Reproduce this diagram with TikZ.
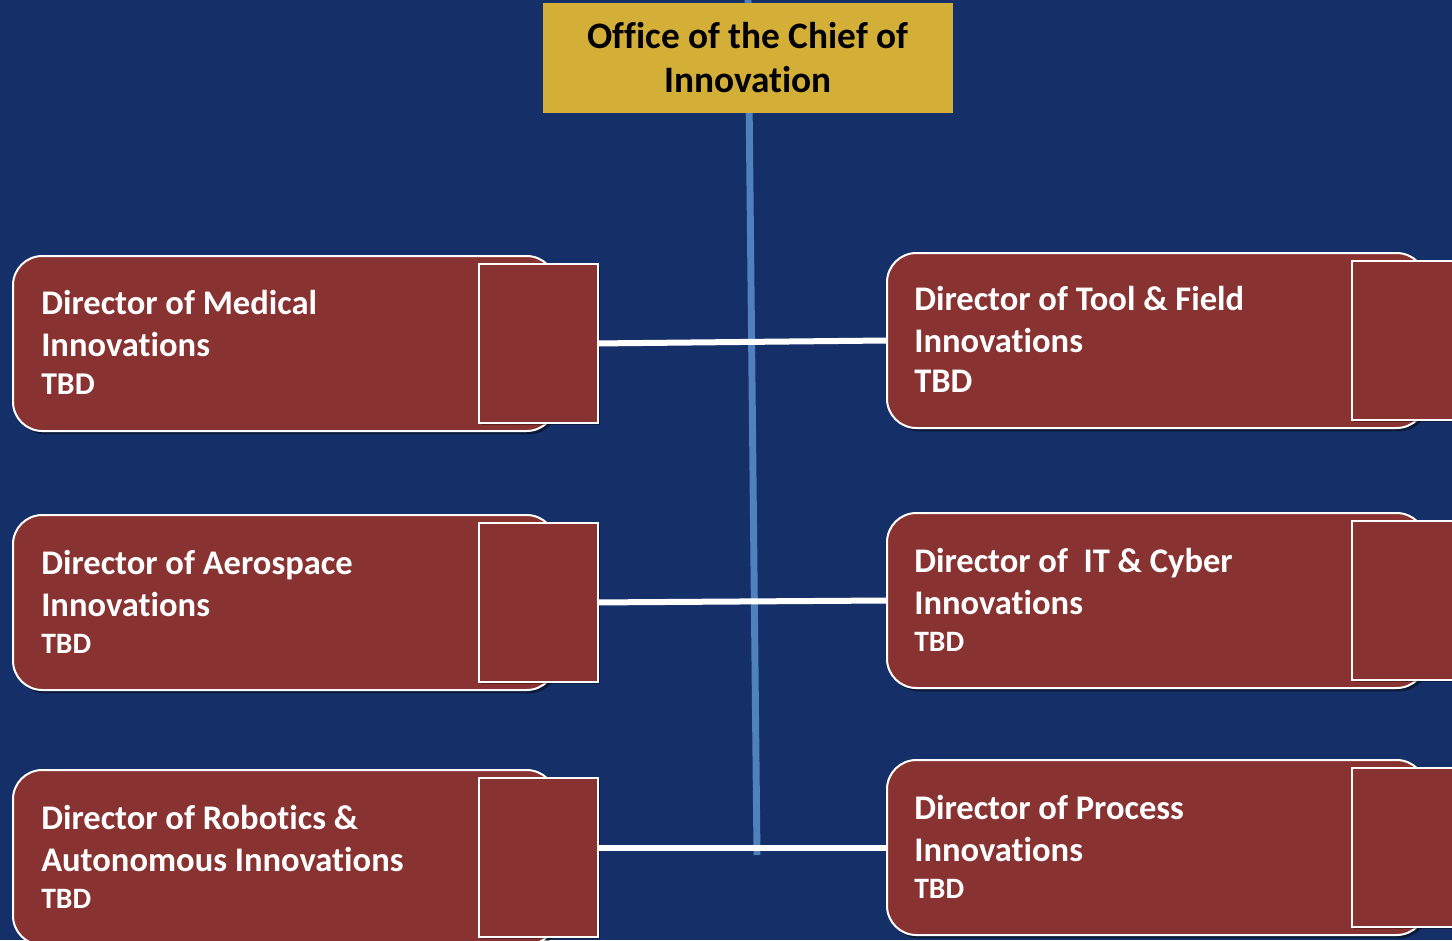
\documentclass[tikz,border=0pt]{standalone}
\usepackage{fontspec}
\setmainfont{Carlito}[Ligatures=NoCommon]
\usetikzlibrary{shadows}
\definecolor{bgnavy}{RGB}{21,48,104}
\definecolor{gold}{RGB}{212,175,55}
\definecolor{boxred}{RGB}{137,50,50}
\definecolor{vblue}{RGB}{79,129,189}
\tikzset{
  x=0.75pt, y=-0.75pt,
  redbox/.style={draw=white, line width=1.5pt, fill=boxred, rounded corners=22pt, inner sep=0pt, anchor=north west,
     drop shadow={shadow xshift=2pt, shadow yshift=-2.5pt, opacity=0.45, fill=black}},
  sqbox/.style={draw=white, line width=1.4pt, fill=boxred, inner sep=0pt, anchor=north west,
     minimum width={119*0.75pt}, minimum height={159*0.75pt},
     drop shadow={shadow xshift=1.5pt, shadow yshift=-1.5pt, opacity=0.35, fill=black}},
  lbl/.style={text=white, font=\bfseries\fontsize{25.9pt}{30pt}\selectfont, anchor=base west, inner sep=0pt},
  tbd/.style={text=white, anchor=base west, inner sep=0pt},
  conn/.style={draw=white, line width=4.5pt},
  vline/.style={draw=vblue, line width=5.2pt},
  topbox/.style={fill=gold, inner sep=0pt, anchor=north west, minimum width={410*0.75pt}, minimum height={110*0.75pt}},
  toplbl/.style={text=black, font=\bfseries\fontsize{28pt}{33pt}\selectfont, anchor=base, inner sep=0pt}
}
\begin{document}
\begin{tikzpicture}
\useasboundingbox (0,0) rectangle (1452,940);
\fill[bgnavy] (0,0) rectangle (1452,940);
% vertical line
\coordinate (vtop) at (748,0);
\coordinate (vbot) at (757,855);
\draw[vline] (vtop) -- (vbot);
% top box
\node[topbox] (top) at (543,3) {};
\node[toplbl] (topa) at (748,48) {Office of the Chief of};
\node[toplbl] (topb) at (748,92) {Innovation};
% left boxes
\node[redbox, minimum width={543*0.75pt}, minimum height={175*0.75pt}] (L1) at (12,255) {};
\node[sqbox] (S1) at (478,263) {};
\node[lbl] (L1a) at (41,314) {Director of Medical};
\node[lbl] (L1b) at (41,356) {Innovations};
\node[tbd, font=\bfseries\fontsize{23.8pt}{28pt}\selectfont] (L1c) at (41,394) {TBD};

\node[redbox, minimum width={543*0.75pt}, minimum height={175*0.75pt}] (L2) at (12,514) {};
\node[sqbox] (S2) at (478,522) {};
\node[lbl] (L2a) at (41,574) {Director of Aerospace};
\node[lbl] (L2b) at (41,616) {Innovations};
\node[tbd, font=\bfseries\fontsize{22.2pt}{26pt}\selectfont] (L2c) at (41,653) {TBD};

\node[redbox, minimum width={543*0.75pt}, minimum height={175*0.75pt}] (L3) at (12,769) {};
\node[sqbox] (S3) at (478,777) {};
\node[lbl] (L3a) at (41,829) {Director of Robotics \&};
\node[lbl] (L3b) at (41,871) {Autonomous Innovations};
\node[tbd, font=\bfseries\fontsize{22.2pt}{26pt}\selectfont] (L3c) at (41,908) {TBD};

% right boxes
\node[redbox, minimum width={539*0.75pt}, minimum height={175*0.75pt}] (R1) at (886,252) {};
\node[sqbox] (T1) at (1351,260) {};
\node[lbl] (R1a) at (914,310) {Director of Tool \& Field};
\node[lbl] (R1b) at (914,352) {Innovations};
\node[tbd, font=\bfseries\fontsize{25.9pt}{30pt}\selectfont] (R1c) at (914,392) {TBD};

\node[redbox, minimum width={539*0.75pt}, minimum height={175*0.75pt}] (R2) at (886,512) {};
\node[sqbox] (T2) at (1351,520) {};
\node[lbl] (R2a) at (914,572) {Director of~ IT \& Cyber};
\node[lbl] (R2b) at (914,614) {Innovations};
\node[tbd, font=\bfseries\fontsize{22.2pt}{26pt}\selectfont] (R2c) at (914,651) {TBD};

\node[redbox, minimum width={539*0.75pt}, minimum height={175*0.75pt}] (R3) at (886,759) {};
\node[sqbox] (T3) at (1351,767) {};
\node[lbl] (R3a) at (914,819) {Director of Process};
\node[lbl] (R3b) at (914,861) {Innovations};
\node[tbd, font=\bfseries\fontsize{22.2pt}{26pt}\selectfont] (R3c) at (914,898) {TBD};

% connectors
\draw[conn] (S1.east) -- (R1.west);
\draw[conn] (S2.east) -- (R2.west);
\draw[conn] (S3.east |- R3.west) -- (R3.west);
\end{tikzpicture}
\end{document}
